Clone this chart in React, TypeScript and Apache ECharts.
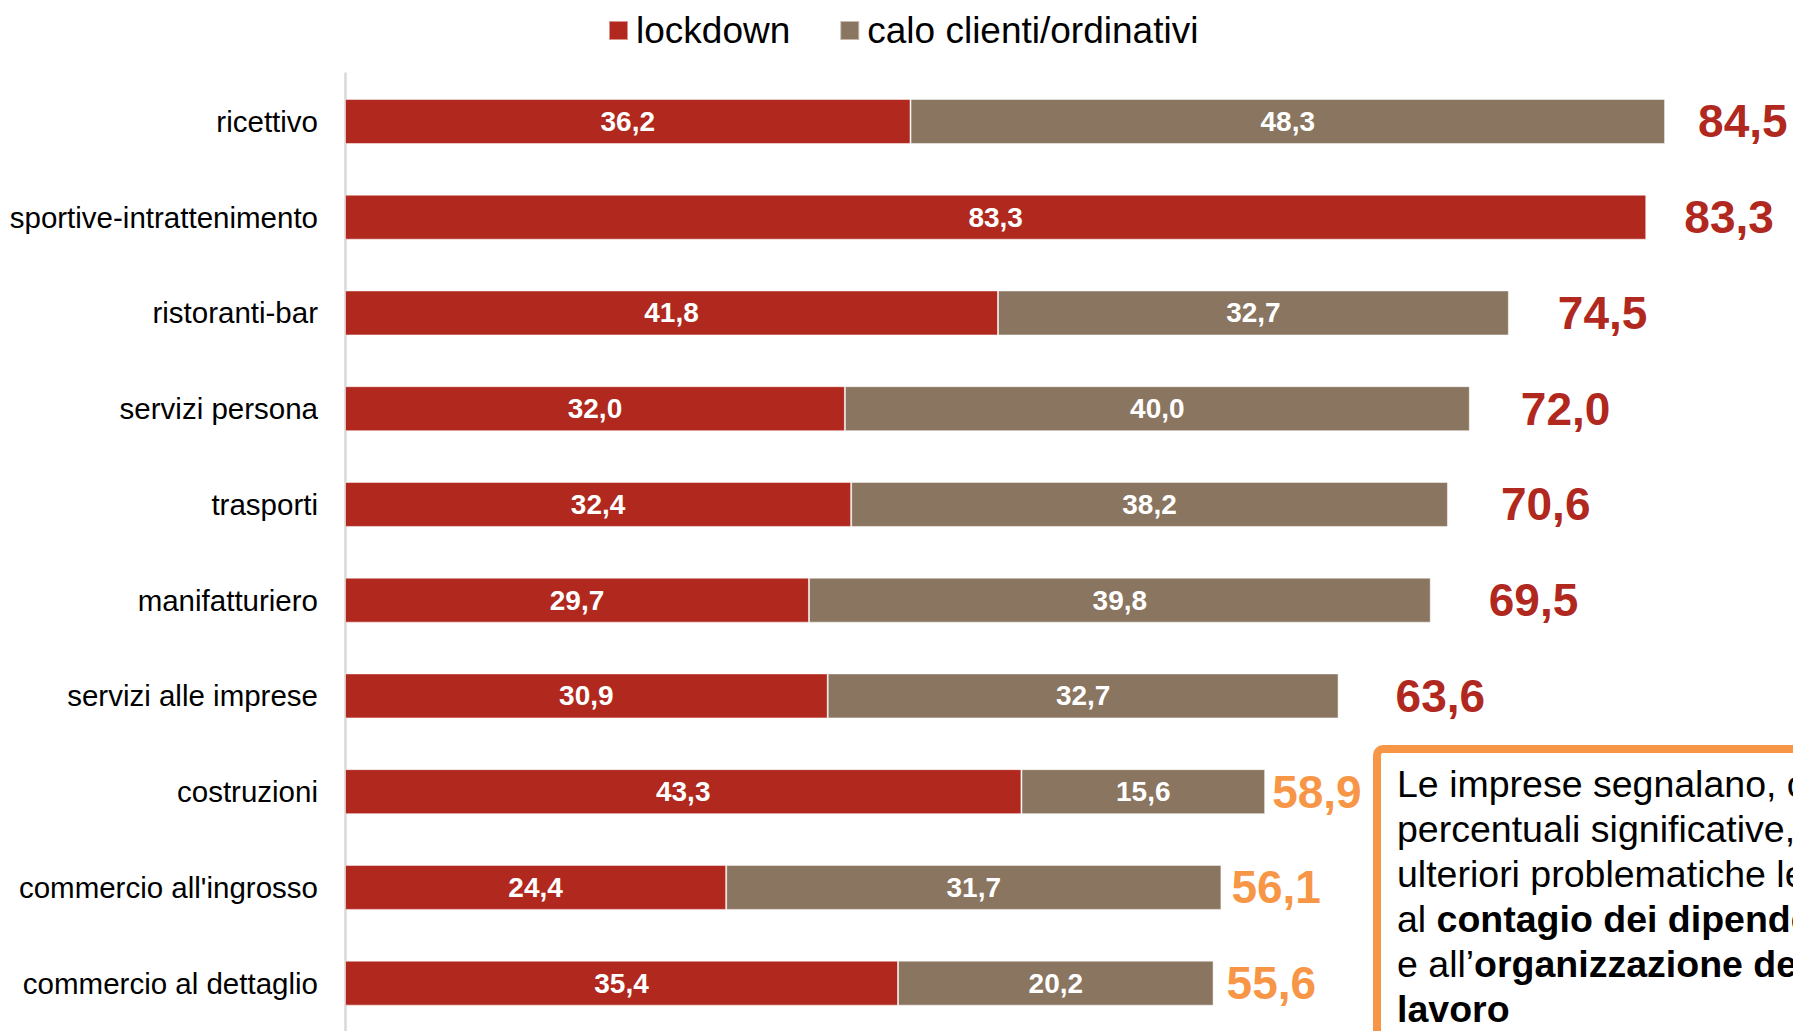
import React, { useEffect, useRef } from "react";
import * as echarts from "echarts";

const categories = [
  "ricettivo",
  "sportive-intrattenimento",
  "ristoranti-bar",
  "servizi persona",
  "trasporti",
  "manifatturiero",
  "servizi alle imprese",
  "costruzioni",
  "commercio all'ingrosso",
  "commercio al dettaglio",
];
const lockdown = [36.2, 83.3, 41.8, 32.0, 32.4, 29.7, 30.9, 43.3, 24.4, 35.4];
const calo = [48.3, 0, 32.7, 40.0, 38.2, 39.8, 32.7, 15.6, 31.7, 20.2];
const totals = [84.5, 83.3, 74.5, 72.0, 70.6, 69.5, 63.6, 58.9, 56.1, 55.6];

const RED = "#B0281E";
const BROWN = "#8A7560";
const ORANGE = "#F79646";
const FONT = "Liberation Sans, Arial, sans-serif";

const fmt = (v: number) => v.toFixed(1).replace(".", ",");

export default function App() {
  const ref = useRef<HTMLDivElement>(null);
  useEffect(() => {
    if (!ref.current) return;
    const chart = echarts.init(ref.current, null, { renderer: "svg" });
    const labelGaps = [33, 38, 49, 51, 53, 58, 57, 7, 10, 13];
    const innerLabel = {
      show: true,
      position: "inside",
      color: "#fff",
      fontWeight: "bold",
      fontSize: 28,
      fontFamily: FONT,
      formatter: (p: any) => (p.value ? fmt(p.value) : ""),
    };
    chart.setOption({
      animation: false,
      textStyle: { fontFamily: FONT },
      legend: {
        data: ["lockdown", "calo clienti/ordinativi"],
        left: 603,
        top: 7,
        icon: "rect",
        itemWidth: 19,
        itemHeight: 19,
        itemGap: 49,
        textStyle: { fontSize: 37, color: "#000", fontFamily: FONT, padding: [0, 0, 0, 3] },
      },
      grid: { left: 345, top: 73.6, height: 963, width: 1406, containLabel: false },
      xAxis: {
        type: "value",
        min: 0,
        max: 90,
        show: false,
        splitLine: { show: false },
      },
      yAxis: {
        type: "category",
        data: categories,
        inverse: true,
        axisLine: { show: true, lineStyle: { color: "#D9D9D9", width: 2.5 } },
        axisTick: { show: false },
        axisLabel: { fontSize: 29.5, color: "#000", margin: 27, fontFamily: FONT },
      },
      series: [
        {
          name: "lockdown",
          type: "bar",
          stack: "s",
          barWidth: 45,
          data: lockdown,
          itemStyle: { color: RED, borderColor: "rgba(255,255,255,0.5)", borderWidth: 1 },
          label: innerLabel,
        },
        {
          name: "calo clienti/ordinativi",
          type: "bar",
          stack: "s",
          barWidth: 45,
          data: calo,
          itemStyle: { color: BROWN, borderColor: "rgba(255,255,255,0.5)", borderWidth: 1 },
          label: innerLabel,
        },
        {
          name: "totale",
          type: "bar",
          barWidth: 45,
          barGap: "-100%",
          silent: true,
          itemStyle: { color: "transparent" },
          data: totals.map((v, i) => ({
            value: v,
            label: {
              show: true,
              position: "right",
              distance: labelGaps[i],
              color: i < 7 ? RED : ORANGE,
              fontSize: 46,
              fontWeight: "bold",
              fontFamily: FONT,
              formatter: () => fmt(v),
            },
          })),
        },
      ],
      graphic: [
        {
          type: "rect",
          shape: { x: 1377, y: 749, width: 600, height: 400, r: 6 },
          style: { fill: "#fff", stroke: ORANGE, lineWidth: 8 },
          z: 10,
        },
        {
          type: "text",
          x: 1397,
          y: 761,
          z: 11,
          style: {
            text:
              "Le imprese segnalano, con\npercentuali significative,\nulteriori problematiche legate\nal {b|contagio dei dipendenti}\ne all\u2019{b|organizzazione del}\n{b|lavoro}",
            fill: "#000",
            fontSize: 37.5,
            fontFamily: FONT,
            lineHeight: 45,
            rich: {
              b: { fontWeight: "bold", fontSize: 37.5, fontFamily: FONT, lineHeight: 45, fill: "#000" },
            },
          },
        },
      ],
    });
    return () => chart.dispose();
  }, []);
  return (
    <div
      ref={ref}
      style={{ position: "absolute", left: 0, top: 0, width: 1793, height: 1031, background: "#fff" }}
    />
  );
}
